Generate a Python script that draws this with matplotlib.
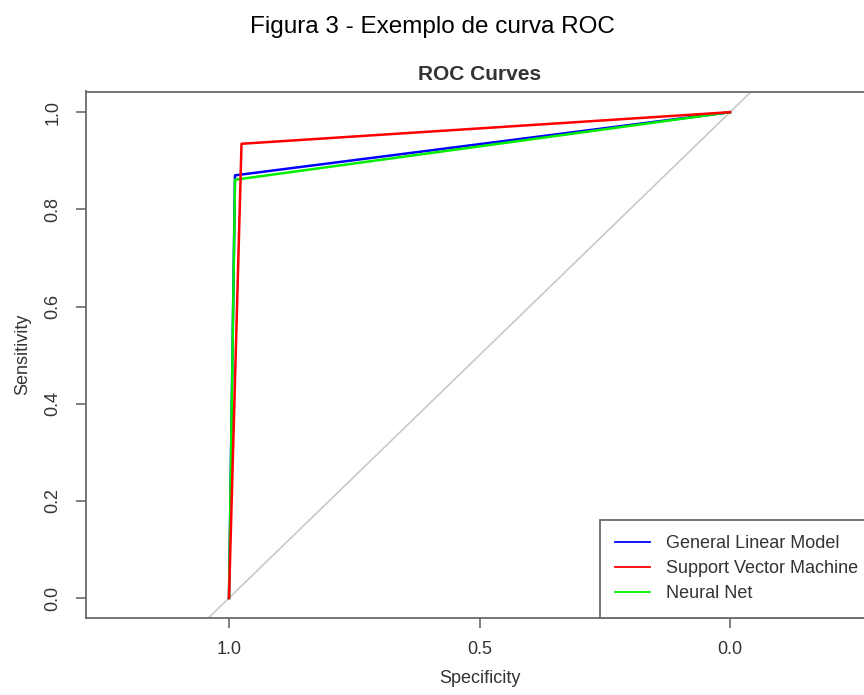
import matplotlib
matplotlib.use("Agg")
import matplotlib.pyplot as plt

# ROC points (specificity, sensitivity)
spec_glm = [1.0, 0.988, 0.0]
sens_glm = [0.0, 0.870, 1.0]
spec_svm = [1.0, 0.975, 0.0]
sens_svm = [0.0, 0.935, 1.0]
spec_nn = [1.0, 0.988, 0.0]
sens_nn = [0.0, 0.861, 1.0]

labels = ["General Linear Model", "Support Vector Machine", "Neural Net"]
xticks = [1.0, 0.5, 0.0]
yticks = [0.0, 0.2, 0.4, 0.6, 0.8, 1.0]

plt.rcParams['font.family'] = ['Liberation Sans', 'DejaVu Sans']

fig = plt.figure(figsize=(8.64, 6.95), dpi=100)
W, H = 864, 695
# axes box in pixels: left 86, right 873 (cut off), top 91.5, bottom 617.7
ax = fig.add_axes([86 / W, 1 - 617.7 / H, (873 - 86) / W, (617.7 - 91.5) / H])

ax.axline((1, 0), (0, 1), color="#c9c9c9", lw=1.2, zorder=1)
ax.plot(spec_glm, sens_glm, color="#0000ff", lw=1.8, label=labels[0], zorder=2)
ax.plot(spec_svm, sens_svm, color="#ff0000", lw=1.8, label=labels[1], zorder=3)
ax.plot(spec_nn, sens_nn, color="#00ee00", lw=1.8, label=labels[2], zorder=2.5)

ax.set_xlim(1.2854, -0.2854)
ax.set_ylim(-0.0405, 1.0426)
ax.set_xticks(xticks)
ax.set_xticklabels(["%.1f" % v for v in xticks])
ax.set_yticks(yticks)
ax.set_yticklabels(["%.1f" % v for v in yticks], rotation=90, va="center")

for s in ax.spines.values():
    s.set_color("#6a6a6a")
    s.set_linewidth(1.3)
ax.tick_params(length=7, width=1.2, color="#6a6a6a", labelsize=13,
               labelcolor="#333333", pad=9.5)
ax.tick_params(axis="y", pad=10.5)

ax.set_xlabel("Specificity", fontsize=13, color="#333333", labelpad=9)
ax.set_ylabel("Sensitivity", fontsize=13, color="#333333", labelpad=10)

leg = ax.legend(loc="lower left", bbox_to_anchor=(0.653, 0.0), borderaxespad=0,
                fontsize=13, frameon=True, fancybox=False, framealpha=1,
                edgecolor="#6a6a6a", handlelength=1.9, handletextpad=0.9,
                labelspacing=0.44, borderpad=0.85)
leg.get_frame().set_linewidth(1.3)
for t in leg.get_texts():
    t.set_color("#333333")
for l in leg.get_lines():
    l.set_linewidth(1.3)

fig.text(479.5 / W, 1 - 80 / H, "ROC Curves", ha="center", va="baseline",
         fontsize=15, fontweight="bold", color="#333333")
fig.text(432 / W, 1 - 32.5 / H, "Figura 3 - Exemplo de curva ROC", ha="center",
         va="baseline", fontsize=17.5, color="black")

fig.savefig("out.png", dpi=100)
